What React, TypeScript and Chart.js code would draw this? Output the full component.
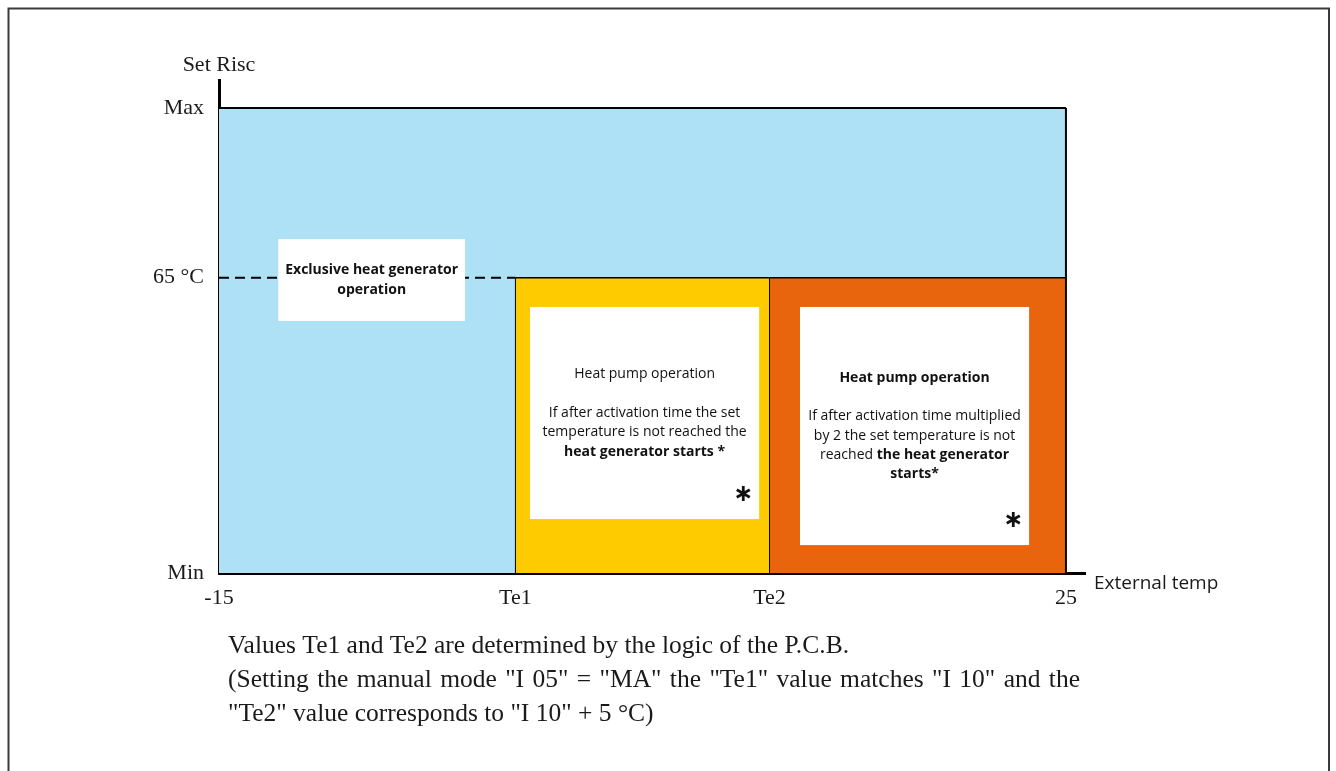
import React, { useEffect, useRef } from "react";
import { Chart, registerables } from "chart.js";

Chart.register(...registerables);

// ---- Data ----
const X_MIN = -15;
const X_MAX = 25;
const X_AXIS_END = 25.9;
const TE1 = -1;
const TE2 = 11;
const Y_MIN = 0;
const Y_SET = 63.5; // "65 °C" level
const Y_MAX = 100;
const Y_AXIS_END = 106;

const xTickValues = [X_MIN, TE1, TE2, X_MAX];
const xTickLabels = ["-15", "Te1", "Te2", "25"];
const yTickValues = [Y_MIN, Y_SET, Y_MAX];
const yTickLabels = ["Min", "65 °C", "Max"];

const blueZoneTop = [
  { x: X_MIN, y: Y_MAX },
  { x: X_MAX, y: Y_MAX },
];
const yellowZoneTop = [
  { x: TE1, y: Y_SET },
  { x: TE2, y: Y_SET },
];
const orangeZoneTop = [
  { x: TE2, y: Y_SET },
  { x: X_MAX, y: Y_SET },
];
const dashedSetLine = [
  { x: X_MIN, y: Y_SET },
  { x: TE1, y: Y_SET },
];
const rightEdge = [
  { x: X_MAX, y: Y_MIN },
  { x: X_MAX, y: Y_MAX },
];
const te1Edge = [
  { x: TE1, y: Y_MIN },
  { x: TE1, y: Y_SET },
];
const te2Edge = [
  { x: TE2, y: Y_MIN },
  { x: TE2, y: Y_SET },
];

type Seg = { t: string; b?: boolean };
const boxExclusiveLines: Seg[][] = [
  [{ t: "Exclusive heat generator", b: true }],
  [{ t: "operation", b: true }],
];
const boxYellowLines: Seg[][] = [
  [{ t: "Heat pump operation" }],
  [],
  [{ t: "If after activation time the set" }],
  [{ t: "temperature is not reached the" }],
  [{ t: "heat generator starts *", b: true }],
];
const boxOrangeLines: Seg[][] = [
  [{ t: "Heat pump operation", b: true }],
  [],
  [{ t: "If after activation time multiplied" }],
  [{ t: "by 2 the set temperature is not" }],
  [{ t: "reached " }, { t: "the heat generator", b: true }],
  [{ t: "starts*", b: true }],
];

const footnoteLines = [
  "Values Te1 and Te2 are determined by the logic of the P.C.B.",
  "(Setting the manual mode \"I 05\" = \"MA\" the \"Te1\" value matches \"I 10\" and the",
  "\"Te2\" value corresponds to \"I 10\" + 5 °C)",
];

const yAxisTitle = "Set Risc";
const xAxisTitle = "External temp";

// ---- Styling ----
const BLUE = "#aee1f6";
const YELLOW = "#fecb00";
const ORANGE = "#e9650d";
const TEXT = "#1a1a1a";
const SERIF = "'Liberation Serif', 'DejaVu Serif', serif";
const SANS = "'Open Sans', 'Noto Sans', sans-serif";
const BOX_FONT = 14;

const annotationBoxes = [
  { x0: -12.2, x1: -3.38, y0: 71.8, y1: 54.2, lines: boxExclusiveLines, lh: 20, star: false },
  { x0: -0.31, x1: 10.51, y0: 57.2, y1: 11.6, lines: boxYellowLines, lh: 19.3, star: true },
  { x0: 12.44, x1: 23.26, y0: 57.2, y1: 6.0, lines: boxOrangeLines, lh: 19.2, star: true },
];

const decorPlugin = {
  id: "decor",
  beforeDraw(chart: any) {
    const ctx = chart.ctx as CanvasRenderingContext2D;
    ctx.save();
    ctx.fillStyle = "#ffffff";
    ctx.fillRect(0, 0, chart.width, chart.height);
    ctx.strokeStyle = "#3a3a3a";
    ctx.lineWidth = 2;
    ctx.beginPath();
    ctx.moveTo(8.5, chart.height + 5);
    ctx.lineTo(8.5, 8.5);
    ctx.lineTo(1329, 8.5);
    ctx.lineTo(1329, chart.height + 5);
    ctx.stroke();
    ctx.restore();
  },
  afterDraw(chart: any) {
    const ctx = chart.ctx as CanvasRenderingContext2D;
    const xs = chart.scales.x;
    const ys = chart.scales.y;
    ctx.save();
    for (const bx of annotationBoxes) {
      const left = xs.getPixelForValue(bx.x0);
      const right = xs.getPixelForValue(bx.x1);
      const top = ys.getPixelForValue(bx.y0);
      const bottom = ys.getPixelForValue(bx.y1);
      ctx.fillStyle = "#ffffff";
      ctx.fillRect(left, top, right - left, bottom - top);
      const cx = (left + right) / 2;
      const cy = (top + bottom) / 2;
      const n = bx.lines.length;
      ctx.textBaseline = "middle";
      ctx.fillStyle = "#111";
      bx.lines.forEach((line, i) => {
        const y = cy + (i - (n - 1) / 2) * bx.lh;
        let total = 0;
        const widths = line.map((s) => {
          ctx.font = `${s.b ? "bold " : ""}${BOX_FONT}px ${SANS}`;
          const w = ctx.measureText(s.t).width;
          total += w;
          return w;
        });
        let x = cx - total / 2;
        line.forEach((s, k) => {
          ctx.font = `${s.b ? "bold " : ""}${BOX_FONT}px ${SANS}`;
          ctx.textAlign = "left";
          ctx.fillText(s.t, x, y);
          x += widths[k];
        });
      });
      if (bx.star) {
        ctx.font = `bold 24px 'DejaVu Sans', sans-serif`;
        ctx.textAlign = "center";
        ctx.textBaseline = "middle";
        ctx.fillText("\u2217", right - 16, bottom - 24);
      }
    }
    // axis titles
    ctx.fillStyle = TEXT;
    ctx.font = `22px ${SERIF}`;
    ctx.textAlign = "center";
    ctx.textBaseline = "middle";
    ctx.fillText(yAxisTitle, xs.left, 65);
    ctx.font = `19px ${SANS}`;
    ctx.textAlign = "left";
    ctx.fillText(xAxisTitle, xs.right + 9, ys.bottom + 11);

    // footnote (second line justified)
    ctx.font = `25.5px ${SERIF}`;
    ctx.textBaseline = "middle";
    ctx.textAlign = "left";
    const fx = 228;
    const fy = [646, 680, 714];
    const justifyTo = [0, 1080, 0];
    footnoteLines.forEach((line, i) => {
      if (justifyTo[i]) {
        const words = line.split(" ");
        const wordsW = words.map((w) => ctx.measureText(w).width);
        const sum = wordsW.reduce((a, b) => a + b, 0);
        const gap = Math.max(ctx.measureText(" ").width * 0.7, (justifyTo[i] - fx - sum) / (words.length - 1));
        let x = fx;
        words.forEach((w, k) => {
          ctx.fillText(w, x, fy[i]);
          x += wordsW[k] + gap;
        });
      } else {
        ctx.fillText(line, fx, fy[i]);
      }
    });
    ctx.restore();
  },
};

export default function App() {
  const ref = useRef<HTMLCanvasElement | null>(null);
  useEffect(() => {
    if (!ref.current) return;
    const lineDs = (data: any[], extra: any) => ({
      data,
      pointRadius: 0,
      pointHoverRadius: 0,
      tension: 0,
      borderColor: "#000",
      borderWidth: 1,
      fill: false,
      ...extra,
    });
    const chart = new Chart(ref.current, {
      type: "line",
      data: {
        datasets: [
          lineDs(dashedSetLine, { borderWidth: 2, borderDash: [10, 6], order: 1 }),
          lineDs(rightEdge, { borderWidth: 2, order: 2 }),
          lineDs(te1Edge, { borderWidth: 1, order: 3 }),
          lineDs(te2Edge, { borderWidth: 1, order: 3 }),
          lineDs(yellowZoneTop, { borderWidth: 1.5, fill: "start", backgroundColor: YELLOW, order: 8 }),
          lineDs(orangeZoneTop, { borderWidth: 1.5, fill: "start", backgroundColor: ORANGE, order: 8 }),
          lineDs(blueZoneTop, { borderWidth: 2, fill: "start", backgroundColor: BLUE, order: 10 }),
        ],
      },
      options: {
        animation: false,
        responsive: false,
        maintainAspectRatio: false,
        events: [],
        layout: { padding: { left: 119, right: 251, top: 80, bottom: 148 } },
        plugins: {
          legend: { display: false },
          tooltip: { enabled: false },
          title: { display: false },
        },
        scales: {
          x: {
            type: "linear",
            min: X_MIN,
            max: X_AXIS_END,
            afterBuildTicks: (s: any) => {
              s.ticks = xTickValues.map((v) => ({ value: v }));
            },
            afterFit: (s: any) => {
              s.height = 50;
            },
            ticks: {
              autoSkip: false,
              maxRotation: 0,
              padding: 12,
              color: TEXT,
              font: { family: SERIF, size: 22 },
              callback: (_v: any, i: number) => xTickLabels[i],
            },
            grid: { display: false, drawTicks: false },
            border: { display: true, color: "#000", width: 3 },
          },
          y: {
            type: "linear",
            min: Y_MIN,
            max: Y_AXIS_END,
            afterBuildTicks: (s: any) => {
              s.ticks = yTickValues.map((v) => ({ value: v }));
            },
            afterFit: (s: any) => {
              s.width = 100;
            },
            ticks: {
              autoSkip: false,
              padding: 15,
              color: TEXT,
              font: { family: SERIF, size: 22 },
              callback: (_v: any, i: number) => yTickLabels[i],
            },
            grid: { display: false, drawTicks: false },
            border: { display: true, color: "#000", width: 3 },
          },
        },
      },
      plugins: [decorPlugin],
    } as any);
    return () => chart.destroy();
  }, []);
  return (
    <canvas
      ref={ref}
      width={1336}
      height={771}
      style={{ position: "fixed", left: 0, top: 0, width: 1336, height: 771, display: "block" }}
    />
  );
}
